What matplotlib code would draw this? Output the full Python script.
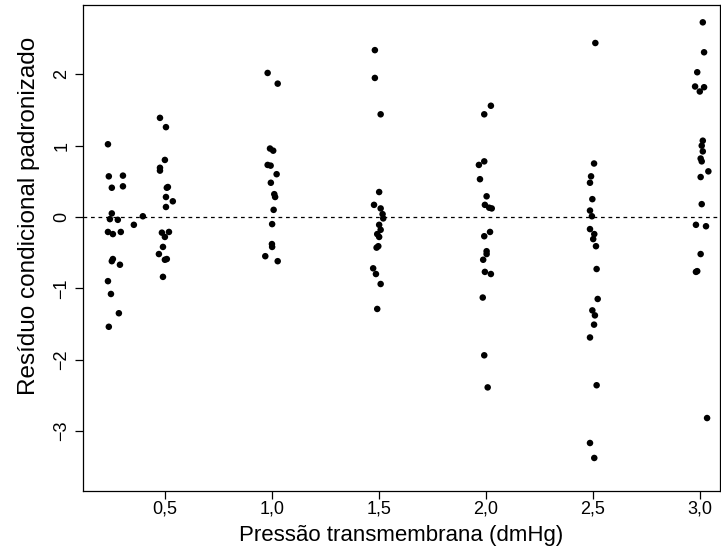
import numpy as np
import matplotlib.pyplot as plt

plt.rcParams['font.family'] = ['Liberation Sans', 'DejaVu Sans']

# --- data (jittered pressure, standardized residual) ---
x_025 = [0.234, 0.238, 0.304, 0.252, 0.304, 0.252, 0.243, 0.280, 0.397, 0.234,
         0.257, 0.294, 0.355, 0.257, 0.252, 0.290, 0.234, 0.248, 0.285, 0.238]
r_025 = [1.02, 0.57, 0.58, 0.41, 0.43, 0.05, -0.03, -0.04, 0.01, -0.21,
         -0.24, -0.21, -0.11, -0.59, -0.62, -0.67, -0.90, -1.08, -1.35, -1.54]

x_05 = [0.477, 0.505, 0.500, 0.477, 0.477, 0.509, 0.505, 0.537, 0.505, 0.486,
        0.519, 0.500, 0.491, 0.472, 0.509, 0.500, 0.491, 0.514]
r_05 = [1.39, 1.26, 0.80, 0.69, 0.65, 0.41, 0.28, 0.22, 0.14, -0.22,
        -0.21, -0.28, -0.42, -0.52, -0.59, -0.60, -0.84, 0.42]

x_10 = [0.980, 1.027, 0.991, 1.006, 0.980, 0.994, 1.022, 0.995, 1.011, 1.015,
        1.008, 1.001, 1.000, 1.001, 0.969, 1.027]
r_10 = [2.02, 1.87, 0.96, 0.93, 0.73, 0.72, 0.60, 0.48, 0.32, 0.28,
        0.10, -0.10, -0.38, -0.42, -0.55, -0.62]

x_15 = [1.481, 1.481, 1.508, 1.501, 1.477, 1.508, 1.517, 1.520, 1.501, 1.508,
        1.492, 1.501, 1.497, 1.489, 1.473, 1.486, 1.508, 1.492]
r_15 = [2.34, 1.95, 1.44, 0.35, 0.17, 0.12, 0.04, -0.02, -0.11, -0.18,
        -0.24, -0.28, -0.41, -0.43, -0.72, -0.80, -0.94, -1.29]

x_20 = [2.023, 1.992, 1.992, 1.967, 1.972, 2.003, 1.995, 2.015, 2.027, 2.019,
        1.992, 2.003, 2.003, 1.987, 1.995, 2.023, 1.985, 1.992, 2.008]
r_20 = [1.56, 1.44, 0.78, 0.73, 0.53, 0.29, 0.17, 0.13, 0.12, -0.21,
        -0.27, -0.48, -0.52, -0.60, -0.77, -0.80, -1.13, -1.94, -2.39]

x_25 = [2.511, 2.505, 2.491, 2.486, 2.497, 2.486, 2.495, 2.486, 2.506, 2.501,
        2.514, 2.517, 2.522, 2.497, 2.509, 2.505, 2.486, 2.517, 2.486, 2.506]
r_25 = [2.44, 0.75, 0.57, 0.48, 0.25, 0.09, 0.01, -0.17, -0.24, -0.31,
        -0.41, -0.73, -1.15, -1.31, -1.38, -1.51, -1.69, -2.36, -3.17, -3.38]

x_30 = [3.013, 3.019, 2.987, 2.977, 3.019, 2.999, 3.013, 3.008, 3.013, 3.003,
        3.008, 3.039, 3.003, 3.008, 2.981, 3.028, 3.003, 2.981, 2.987, 3.033]
r_30 = [2.73, 2.31, 2.03, 1.83, 1.82, 1.76, 1.07, 1.00, 0.92, 0.82,
        0.78, 0.64, 0.56, 0.18, -0.11, -0.13, -0.52, -0.77, -0.76, -2.82]

x_ticks = [0.5, 1.0, 1.5, 2.0, 2.5, 3.0]
x_tick_labels = ['0,5', '1,0', '1,5', '2,0', '2,5', '3,0']
y_ticks = [-3, -2, -1, 0, 1, 2]
y_tick_labels = ['\u22123', '\u22122', '\u22121', '0', '1', '2']

x_all = np.concatenate([x_025, x_05, x_10, x_15, x_20, x_25, x_30])
r_all = np.concatenate([r_025, r_05, r_10, r_15, r_20, r_25, r_30])

# --- plot, base-R look ---
fig = plt.figure(figsize=(7.21, 5.5), dpi=100)
ax = fig.add_axes([0.115, 0.1073, 0.8835, 0.8836])

ax.scatter(x_all, r_all, s=22, color='black', edgecolors='none', zorder=3)
ax.axhline(0, color='black', linestyle=(0, (3, 3)), linewidth=0.9)

ax.set_xlim(0.117, 3.093)
ax.set_ylim(-3.843, 2.973)

ax.set_xticks(x_ticks)
ax.set_xticklabels(x_tick_labels)
ax.set_yticks(y_ticks)
ax.set_yticklabels(y_tick_labels, rotation=90, va='center')

ax.tick_params(direction='out', length=6, width=0.9, labelsize=13)
ax.tick_params(axis='x', pad=1)
ax.tick_params(axis='y', pad=3)
for sp in ax.spines.values():
    sp.set_linewidth(0.9)

ax.set_xlabel('Pressão transmembrana (dmHg)', fontsize=16, va='center')
ax.set_ylabel('Resíduo condicional padronizado', fontsize=17.5, va='center')
ax.xaxis.set_label_coords(0.5, -0.091)
ax.yaxis.set_label_coords(-0.084, 0.566)

fig.savefig('out.png', dpi=100)
